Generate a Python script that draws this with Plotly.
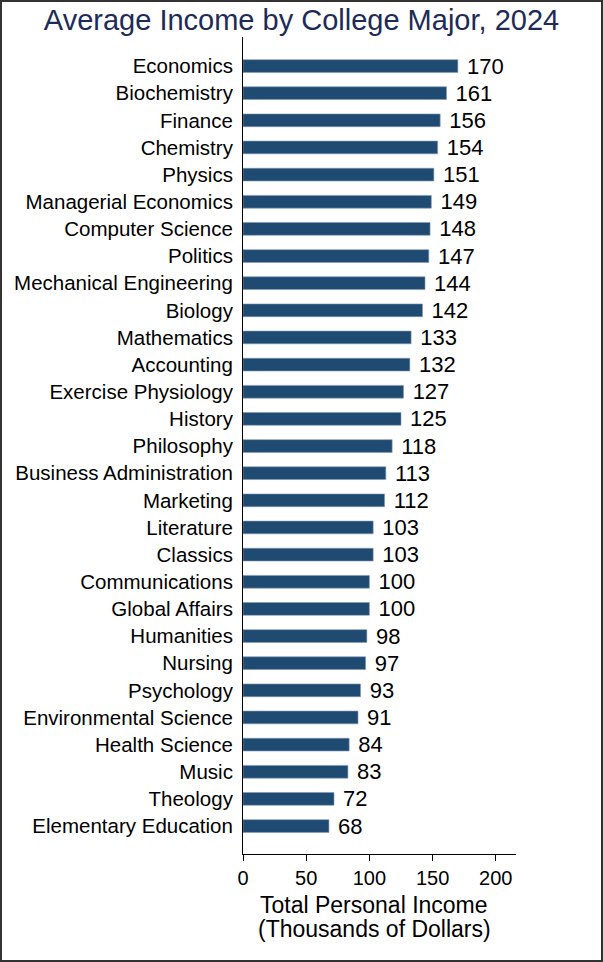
import plotly.graph_objects as go

# majors listed top to bottom as in the chart
majors = ["Economics", "Biochemistry", "Finance", "Chemistry", "Physics",
          "Managerial Economics", "Computer Science", "Politics",
          "Mechanical Engineering", "Biology", "Mathematics", "Accounting",
          "Exercise Physiology", "History", "Philosophy",
          "Business Administration", "Marketing", "Literature", "Classics",
          "Communications", "Global Affairs", "Humanities", "Nursing",
          "Psychology", "Environmental Science", "Health Science", "Music",
          "Theology", "Elementary Education"]
income = [170, 161, 156, 154, 151, 149, 148, 147, 144, 142, 133, 132, 127,
          125, 118, 113, 112, 103, 103, 100, 100, 98, 97, 93, 91, 84, 83,
          72, 68]
tick_vals = [0, 50, 100, 150, 200]
x_title = ["Total Personal Income", "(Thousands of Dollars)"]

# plotly draws the first category at the bottom, so flip
y_cats = majors[::-1]
x_vals = income[::-1]

W, H = 603, 962
L, R, T, B = 243, 87, 37, 108

fig = go.Figure(go.Bar(
    x=x_vals, y=y_cats, orientation="h",
    marker=dict(color="#1f4a72", line=dict(color="#7f98b3", width=0.6)),
    width=0.47,
    text=[" " + str(v) for v in x_vals], textposition="outside",
    textfont=dict(size=22, color="black", family="Liberation Sans"),
    constraintext="none", cliponaxis=False,
))

fig.update_layout(
    width=W, height=H,
    margin=dict(l=L, r=R, t=T, b=B),
    paper_bgcolor="white", plot_bgcolor="white",
    font=dict(family="Liberation Sans, Arial", color="black", size=20),
    showlegend=False,
    title=dict(text="Average Income by College Major, 2024",
               x=0.5, xanchor="center", y=0.99, yanchor="top",
               font=dict(size=29, color="#1c2b57", family="Liberation Sans")),
)

fig.update_xaxes(
    range=[0, 216], tickvals=tick_vals, showgrid=False, zeroline=False,
    showline=True, linecolor="black", linewidth=1,
    ticks="outside", ticklen=6, tickcolor="black",
    tickfont=dict(size=20),
)
fig.update_yaxes(
    type="category", categoryorder="array", categoryarray=y_cats,
    range=[-1.03, 29.07], showgrid=False, zeroline=False,
    showline=True, linecolor="black", linewidth=1,
    ticks="", ticklabelstandoff=5, tickfont=dict(size=20.5),
)

# axis title as two tight lines under the ticks
ph = H - T - B
for i, line in enumerate(x_title):
    fig.add_annotation(text=line, xref="x", yref="paper", x=104,
                       y=-(51 + 24 * i) / ph, yanchor="middle",
                       showarrow=False, font=dict(size=23, color="black"))

# frame around the whole picture
pw = W - L - R
fig.add_shape(type="rect", xref="paper", yref="paper",
              x0=(-L + 1) / pw, x1=(pw + R - 1) / pw,
              y0=(-B + 1) / ph, y1=(ph + T - 1) / ph,
              line=dict(color="#333333", width=2), layer="above")

# drop the default body margin so the figure sits at the page corner
fig.write_html("out.html", config={"displayModeBar": False},
               post_script="document.body.style.margin='0';")
